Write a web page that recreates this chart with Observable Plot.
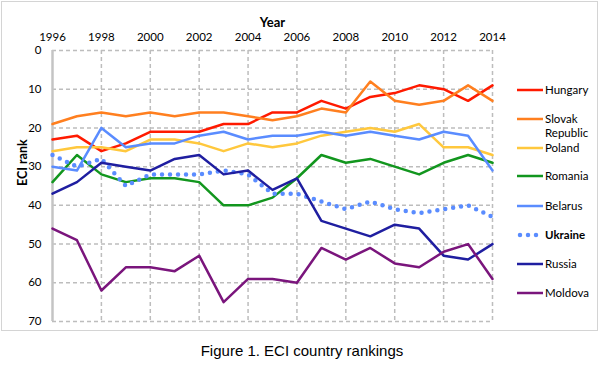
<!DOCTYPE html>
<html>
<head>
<meta charset="utf-8">
<script src="https://cdn.jsdelivr.net/npm/d3@7"></script>
<script src="https://cdn.jsdelivr.net/npm/@observablehq/plot@0.6"></script>
<style>
  body { margin: 0; background: #fff; }
  #wrap { position: relative; width: 604px; height: 375px; overflow: hidden; }
  #frame { position: absolute; left: 1px; top: 1px; width: 597px; height: 330px; border: 1.5px solid #d4d4d4; box-sizing: border-box; }
  #chart { position: absolute; left: 0; top: 0; }
  #legend { position: absolute; left: 0; top: 0; width: 604px; height: 334px; font-family: Lato, "Open Sans", sans-serif; font-size: 11.5px; color: #000; }
  .li { position: absolute; left: 517px; height: 14px; display: flex; align-items: center; }
  .li svg { display: block; }
  .li span { margin-left: 2px; line-height: 14px; white-space: nowrap; }
  #caption { position: absolute; left: 0; top: 342px; width: 604px; text-align: center; font-family: "Liberation Sans", Arial, sans-serif; font-size: 15px; color: #000; }
</style>
</head>
<body>
<div id="wrap">
  <div id="frame"></div>
  <div id="chart"></div>
  <div id="legend"></div>
  <div id="caption">Figure 1. ECI country rankings</div>
</div>
<script>
const years = [1996,1997,1998,1999,2000,2001,2002,2003,2004,2005,2006,2007,2008,2009,2010,2011,2012,2013,2014];
const xTicks = [1996,1998,2000,2002,2004,2006,2008,2010,2012,2014];
const yTicks = [0,10,20,30,40,50,60,70];

const countries = ["Hungary","Slovak Republic","Poland","Romania","Belarus","Ukraine","Russia","Moldova"];
const colors = ["#ff1a00","#ff7f1f","#ffc83d","#12961e","#5a8cff","#5a8cff","#1f1ea0","#7a157c"];

const hungary  = [23,22,26,24,21,21,21,19,19,16,16,13,15,12,11,9,10,13,9];
const slovak   = [19,17,16,17,16,17,16,16,17,18,17,15,16,8,13,14,13,9,13];
const poland   = [26,25,25,26,23,23,24,26,24,25,24,22,21,20,21,19,25,25,27];
const romania  = [34,27,32,34,33,33,34,40,40,38,33,27,29,28,30,32,29,27,29];
const belarus  = [30,31,20,25,24,24,22,21,23,22,22,21,22,21,22,23,21,22,31];
const ukraine  = [27,30,28,35,32,32,32,31,32,37,37,39,41,39,41,42,41,40,43];
const russia   = [37,34,29,30,31,28,27,32,31,36,33,44,46,48,45,46,53,54,50];
const moldova  = [46,49,62,56,56,57,53,65,59,59,60,51,54,51,55,56,52,50,59];

const series = [hungary, slovak, poland, romania, belarus, ukraine, russia, moldova];
const rows = [];
countries.forEach((c, i) => years.forEach((yr, j) => rows.push({country: c, year: yr, rank: series[i][j]})));

const lineMarks = countries.map((c, i) => {
  const data = rows.filter(r => r.country === c);
  if (c === "Ukraine") {
    return Plot.line(data, {x: "year", y: "rank", stroke: colors[i], strokeWidth: 4.5, strokeDasharray: "0,8", strokeLinecap: "round"});
  }
  return Plot.line(data, {x: "year", y: "rank", stroke: colors[i], strokeWidth: 2.5});
});

const chart = Plot.plot({
  width: 604,
  height: 334,
  marginLeft: 52,
  marginRight: 112,
  marginTop: 50,
  marginBottom: 13,
  style: {fontFamily: "Lato, 'Open Sans', sans-serif", fontSize: "11px", color: "#000", background: "transparent", overflow: "visible"},
  x: {domain: [1996, 2014]},
  y: {domain: [0, 70], reverse: true},
  marks: [
    Plot.gridX(xTicks.slice(1), {stroke: "#bdbdbd", strokeOpacity: 1, strokeWidth: 1.5, strokeDasharray: "4,3"}),
    Plot.gridY(yTicks, {stroke: "#bdbdbd", strokeOpacity: 1, strokeWidth: 1.5, strokeDasharray: "4,3"}),
    Plot.ruleX([1996], {stroke: "#c4c4c4", strokeWidth: 2.5}),
    Plot.axisX(xTicks, {anchor: "top", tickSize: 0, tickPadding: 10, tickFormat: d => String(d), label: null, fontSize: 11.5}),
    Plot.axisY(yTicks, {anchor: "left", tickSize: 0, tickPadding: 11, label: null, fontSize: 11.5}),
    ...lineMarks,
    Plot.text(["Year"], {frameAnchor: "top", dy: -33, fontWeight: "bold", fontSize: 13}),
    Plot.text(["ECI rank"], {frameAnchor: "left", dx: -30, rotate: -90, fontWeight: "bold", fontSize: 12.5})
  ]
});
document.getElementById("chart").appendChild(chart);

// Legend
const legendY = [90, 119, 148, 176, 206, 235, 264, 293];
const legend = document.getElementById("legend");
countries.forEach((c, i) => {
  const item = document.createElement("div");
  item.className = "li";
  item.style.top = (legendY[i] - 7) + "px";
  const dotted = c === "Ukraine";
  const sw = dotted
    ? `<svg width="26" height="8"><line x1="3" y1="4" x2="25" y2="4" stroke="${colors[i]}" stroke-width="4.5" stroke-dasharray="0,8" stroke-linecap="round"/></svg>`
    : `<svg width="26" height="8"><line x1="0" y1="4" x2="26" y2="4" stroke="${colors[i]}" stroke-width="2.5"/></svg>`;
  const label = c === "Slovak Republic" ? "Slovak" : c;
  item.innerHTML = sw + `<span style="${dotted ? 'font-weight:bold' : ''}">${label}</span>`;
  legend.appendChild(item);
  if (c === "Slovak Republic") {
    const extra = document.createElement("div");
    extra.className = "li";
    extra.style.top = (legendY[i] + 14 - 7) + "px";
    extra.style.left = "545px";
    extra.innerHTML = `<span style="margin-left:0">Republic</span>`;
    legend.appendChild(extra);
  }
});
</script>
</body>
</html>
